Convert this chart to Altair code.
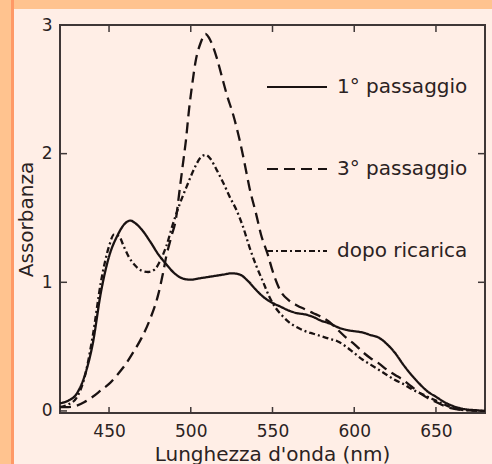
import altair as alt
import pandas as pd

# ---- data ----
series_names = ["1° passaggio", "3° passaggio", "dopo ricarica"]

wl_1 = [420, 425, 430, 435, 440, 445, 450, 455, 460, 463, 466, 470, 475, 480, 485, 490, 495,
        500, 505, 510, 515, 520, 525, 530, 535, 540, 545, 550, 555, 560, 565, 570, 575, 580,
        585, 590, 595, 600, 605, 610, 615, 620, 625, 630, 635, 640, 645, 650, 655, 660, 665,
        670, 675, 680]
a_1 = [0.06, 0.08, 0.13, 0.27, 0.52, 0.92, 1.2, 1.36, 1.46, 1.48, 1.46, 1.41, 1.32, 1.22, 1.14,
       1.07, 1.03, 1.02, 1.03, 1.04, 1.05, 1.06, 1.07, 1.06, 1.01, 0.94, 0.88, 0.84, 0.81, 0.78,
       0.76, 0.75, 0.73, 0.70, 0.68, 0.65, 0.63, 0.62, 0.61, 0.59, 0.57, 0.52, 0.45, 0.36, 0.28,
       0.21, 0.15, 0.11, 0.07, 0.04, 0.02, 0.01, 0.005, 0.0]

wl_3 = [420, 425, 430, 435, 440, 445, 450, 455, 460, 465, 470, 475, 480, 483, 485, 488, 491,
        493, 495, 497, 499, 501, 503, 506, 509, 512, 516, 519, 522, 526, 530, 533, 536, 540,
        543, 547, 550, 555, 560, 565, 570, 575, 580, 585, 590, 595, 600, 605, 610, 615, 620,
        625, 630, 635, 640, 645, 650, 655, 660, 665, 670, 680]
a_3 = [0.03, 0.03, 0.04, 0.07, 0.11, 0.16, 0.21, 0.28, 0.36, 0.46, 0.57, 0.71, 0.9, 1.07, 1.2,
       1.35, 1.5, 1.7, 1.9, 2.1, 2.35, 2.55, 2.72, 2.86, 2.93, 2.88, 2.74, 2.6, 2.46, 2.3, 2.1,
       1.92, 1.73, 1.53, 1.37, 1.22, 1.09, 0.93, 0.86, 0.82, 0.79, 0.76, 0.73, 0.69, 0.63,
       0.57, 0.52, 0.46, 0.41, 0.37, 0.32, 0.28, 0.24, 0.19, 0.14, 0.10, 0.07, 0.04, 0.02,
       0.01, 0.005, 0.0]

wl_r = [420, 425, 430, 435, 440, 445, 450, 453, 456, 459, 462, 466, 470, 474, 478, 481, 485,
        489, 493, 498, 502, 506, 509, 512, 516, 520, 524, 528, 532, 536, 540, 544, 548, 552,
        556, 560, 565, 570, 575, 580, 585, 590, 595, 600, 605, 610, 615, 620, 625, 630, 635,
        640, 645, 650, 655, 660, 665, 670, 680]
a_r = [0.03, 0.05, 0.1, 0.26, 0.58, 1.0, 1.28, 1.37, 1.36, 1.28, 1.2, 1.13, 1.09, 1.08, 1.1,
       1.16, 1.28, 1.45, 1.6, 1.76, 1.88, 1.97, 1.99, 1.96, 1.87, 1.77, 1.66, 1.56, 1.43, 1.27,
       1.13, 1.01, 0.89, 0.8, 0.74, 0.69, 0.65, 0.62, 0.6, 0.58, 0.56, 0.54, 0.5, 0.45, 0.4,
       0.36, 0.32, 0.28, 0.24, 0.21, 0.17, 0.14, 0.11, 0.08, 0.05, 0.025, 0.01, 0.005, 0.0]

x_ticks = [450, 500, 550, 600, 650]
y_ticks = [0, 1, 2, 3]

df = pd.concat([
    pd.DataFrame({"wl": wl_1, "A": a_1, "series": series_names[0]}),
    pd.DataFrame({"wl": wl_3, "A": a_3, "series": series_names[1]}),
    pd.DataFrame({"wl": wl_r, "A": a_r, "series": series_names[2]}),
], ignore_index=True)

# ---- styling ----
W, H = 425, 388
FRAME = "#3f3737"
INK = "#1a1212"
TXT = "#2b2222"
FONT = "DejaVu Sans"
ORANGE = "#FFC38F"
ORANGE_DARK = "#FF9966"
PANEL = "#FFEEE6"

xs = alt.Scale(domain=[420, 680], nice=False, zero=False)
ys = alt.Scale(domain=[-0.016, 3], nice=False, zero=False)

x_axis = alt.Axis(
    values=x_ticks, title="Lunghezza d'onda (nm)", ticks=False, tickSize=0, domain=False,
    grid=False, labelFont=FONT, labelFontSize=17, labelColor=TXT, labelPadding=10,
    labelFlush=False, titleFont=FONT, titleFontSize=20, titleFontWeight="normal",
    titleColor=TXT, titleX=212, titleY=47, titleAlign="center", titleBaseline="alphabetic")
y_axis = alt.Axis(
    values=y_ticks, title="Assorbanza", ticks=False, tickSize=0, domain=False,
    grid=False, labelFont=FONT, labelFontSize=17, labelColor=TXT, labelPadding=8,
    labelFlush=False, titleFont=FONT, titleFontSize=20, titleFontWeight="normal",
    titleColor=TXT, titleX=-28, titleY=H / 2, titleAngle=270, titleAlign="center",
    titleBaseline="alphabetic")

one = pd.DataFrame({"k": [0]})

left_strip = alt.Chart(one).mark_rect(color=ORANGE).encode(
    x=alt.value(-60), x2=alt.value(-46), y=alt.value(-25), y2=alt.value(H + 51))
left_dark = alt.Chart(one).mark_rect(color=ORANGE_DARK).encode(
    x=alt.value(-49), x2=alt.value(-46), y=alt.value(-25), y2=alt.value(H + 51))
top_strip = alt.Chart(one).mark_rect(color=ORANGE).encode(
    x=alt.value(-46), x2=alt.value(W + 7), y=alt.value(-25), y2=alt.value(-16))

xt = pd.DataFrame({"wl": x_ticks})
yt = pd.DataFrame({"A": y_ticks})

tick_bottom = alt.Chart(xt).mark_rule(color=FRAME, strokeWidth=1.5).encode(
    x=alt.X("wl:Q", scale=xs, axis=x_axis), y=alt.value(H), y2=alt.value(H - 6))
tick_top = alt.Chart(xt).mark_rule(color=FRAME, strokeWidth=1.5).encode(
    x=alt.X("wl:Q", scale=xs, axis=x_axis), y=alt.value(0), y2=alt.value(7))
tick_left = alt.Chart(yt).mark_rule(color=FRAME, strokeWidth=1.5).encode(
    y=alt.Y("A:Q", scale=ys, axis=y_axis), x=alt.value(0), x2=alt.value(7))
tick_right = alt.Chart(yt).mark_rule(color=FRAME, strokeWidth=1.5).encode(
    y=alt.Y("A:Q", scale=ys, axis=y_axis), x=alt.value(W), x2=alt.value(W - 7))

lines = alt.Chart(df).mark_line(color=INK, strokeWidth=2.3, interpolate="monotone").encode(
    x=alt.X("wl:Q", scale=xs, axis=x_axis),
    y=alt.Y("A:Q", scale=ys, axis=y_axis),
    strokeDash=alt.StrokeDash("series:N", scale=alt.Scale(
        domain=series_names, range=[[1, 0], [11, 6], [6, 3, 2, 3]]),
        legend=alt.Legend(title=None, orient="none", legendX=206, legendY=31,
                          symbolType="stroke", symbolSize=3600, symbolStrokeWidth=2,
                          symbolStrokeColor=INK, labelFont=FONT, labelFontSize=20,
                          labelColor=TXT, labelOffset=9, rowPadding=41, padding=0)),
)

chart = alt.layer(
    left_strip, left_dark, top_strip,
    tick_bottom, tick_top, tick_left, tick_right,
    lines,
).properties(
    width=W, height=H,
    background=PANEL,
    padding={"left": 60, "top": 25, "right": 7, "bottom": 51},
    autosize=alt.AutoSizeParams(type="none"),
).configure_view(
    stroke=FRAME, strokeWidth=2, fill=None,
)

chart.save("out.html", embed_options={"renderer": "svg", "actions": False})
